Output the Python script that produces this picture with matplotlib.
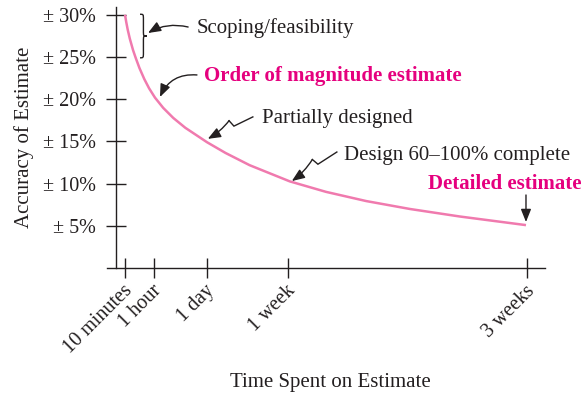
import numpy as np
import matplotlib
matplotlib.use("Agg")
import matplotlib.pyplot as plt
from matplotlib.path import Path
from matplotlib.patches import PathPatch
from matplotlib.transforms import ScaledTranslation

plt.rcParams['font.family'] = 'serif'
plt.rcParams['font.serif'] = ['Liberation Serif', 'DejaVu Serif']

# time spent on estimate (x axis positions of the labelled durations)
time_labels = ['10 minutes', '1 hour', '1 day', '1 week', '3 weeks']
time_pos = [0, 7.2, 20.4, 40.5, 100]

# accuracy of estimate (± %)
acc_ticks = [5, 10, 15, 20, 25, 30]
acc_labels = ['\u00b1 %d%%' % v for v in acc_ticks]

# curve
curve_x = [0, 0.3, 0.67, 1.2, 2.0, 2.66, 3.6, 4.8, 6.0, 7.46, 9.5, 12, 15,
           20.4, 25, 31, 41, 50, 60, 70.9, 83.3, 99.75]
curve_y = [30.0, 29.15, 28.24, 27.16, 25.81, 24.89, 23.68, 22.38, 21.28,
           20.18, 18.97, 17.78, 16.61, 14.90, 13.63, 12.18, 10.26, 9.02,
           7.93, 6.99, 6.10, 5.08]

ink = '#231f20'
pink = '#f07aae'
magenta = '#e5007e'
fs = 15

fig = plt.figure(figsize=(5.87, 3.94), dpi=100)
ax = fig.add_axes([107/587, 126/394, 438/587, 261/394])
ax.set_xlim(-4.48, 104.48)
ax.set_ylim(0, 30.92)
ax.patch.set_alpha(0)

for s in ['top', 'right']:
    ax.spines[s].set_visible(False)
ax.spines['left'].set_position(('data', -2.24))
for s in ['left', 'bottom']:
    ax.spines[s].set_color(ink)
    ax.spines[s].set_linewidth(1.0)

ax.set_yticks(acc_ticks, acc_labels, fontsize=fs - 0.5, color=ink)
ax.set_xticks(time_pos, time_labels, fontsize=fs - 0.5, color=ink,
              rotation=45, ha='right', va='center', rotation_mode='anchor')
ax.tick_params(axis='both', direction='inout', length=15, width=1.0, color=ink)
ax.tick_params(axis='y', pad=7)
ax.tick_params(axis='x', pad=7)
shift = ScaledTranslation(0.05, 0.0, fig.dpi_scale_trans)
for lbl in ax.get_xticklabels():
    lbl.set_transform(lbl.get_transform() + shift)

ax.set_xlabel('Time Spent on Estimate', fontsize=fs, color=ink, va='baseline')
ax.xaxis.set_label_coords(0.509, -0.456)
ax.set_ylabel('Accuracy of Estimate', fontsize=fs, color=ink, va='center')
ax.yaxis.set_label_coords(-0.19, 0.5)

ax.plot(curve_x, curve_y, color=pink, lw=1.8, solid_capstyle='butt',
        solid_joinstyle='round', clip_on=False)

arrow = dict(arrowstyle='-|>,head_length=0.55,head_width=0.22', mutation_scale=14,
             color=ink, lw=1.0, shrinkA=0, shrinkB=0)

# brace next to the scoping range (30% .. 25%)
bx, bw = 3.73, 1.7
yt, yb = 30.06, 24.9
ym = (yt + yb) / 2
q = 0.12 * (yt - yb)
xm = bx + bw / 2
verts = [(bx, yt), (xm, yt), (xm, yt), (xm, yt - q),
         (xm, ym + q),
         (xm, ym), (xm, ym), (bx + bw, ym),
         (xm, ym), (xm, ym), (xm, ym - q),
         (xm, yb + q),
         (xm, yb), (xm, yb), (bx, yb)]
codes = [Path.MOVETO, Path.CURVE4, Path.CURVE4, Path.CURVE4,
         Path.LINETO,
         Path.CURVE4, Path.CURVE4, Path.CURVE4,
         Path.CURVE4, Path.CURVE4, Path.CURVE4,
         Path.LINETO,
         Path.CURVE4, Path.CURVE4, Path.CURVE4]
ax.add_patch(PathPatch(Path(verts, codes), fill=False, edgecolor=ink, lw=1.0,
                       clip_on=False))

ax.text(17.7, 27.84, 'Scoping/feasibility', fontsize=fs, color=ink)
ax.annotate('', xy=(5.72, 27.84), xytext=(15.7, 28.55),
            arrowprops=dict(arrow, connectionstyle='arc3,rad=0.2'))

ax.text(19.65, 22.16, 'Order of magnitude estimate', fontsize=fs, color=magenta,
        fontweight='bold')
ax.annotate('', xy=(8.7, 20.26), xytext=(17.9, 22.87),
            arrowprops=dict(arrow, connectionstyle='arc3,rad=0.35'))


def zigzag(start, end):
    # leader with a lightning-style kink
    T = ax.transData
    s = T.transform(start)
    e = T.transform(end)
    d = e - s
    up = np.array([d[1], -d[0]]) / np.hypot(*d)
    p1 = s + 0.42 * d
    p2 = s + 0.46 * d + 7 * up
    pts = T.inverted().transform(np.array([s, p1, p2]))
    ax.plot(pts[:, 0], pts[:, 1], color=ink, lw=1.0, solid_joinstyle='miter')
    ax.annotate('', xy=end, xytext=tuple(pts[-1]),
                arrowprops=dict(arrow, connectionstyle='arc3,rad=-0.1'))


ax.text(34.1, 17.18, 'Partially designed', fontsize=fs, color=ink)
zigzag((31.8, 17.9), (20.6, 15.3))

ax.text(54.5, 12.8, 'Design 60\u2013100% complete', fontsize=fs, color=ink)
zigzag((52.7, 13.74), (41.5, 10.3))

ax.text(75.4, 9.36, 'Detailed estimate', fontsize=fs, color=magenta,
        fontweight='bold')
ax.annotate('', xy=(99.75, 5.45), xytext=(99.75, 8.65), arrowprops=arrow)

fig.savefig('out.png', dpi=100)
